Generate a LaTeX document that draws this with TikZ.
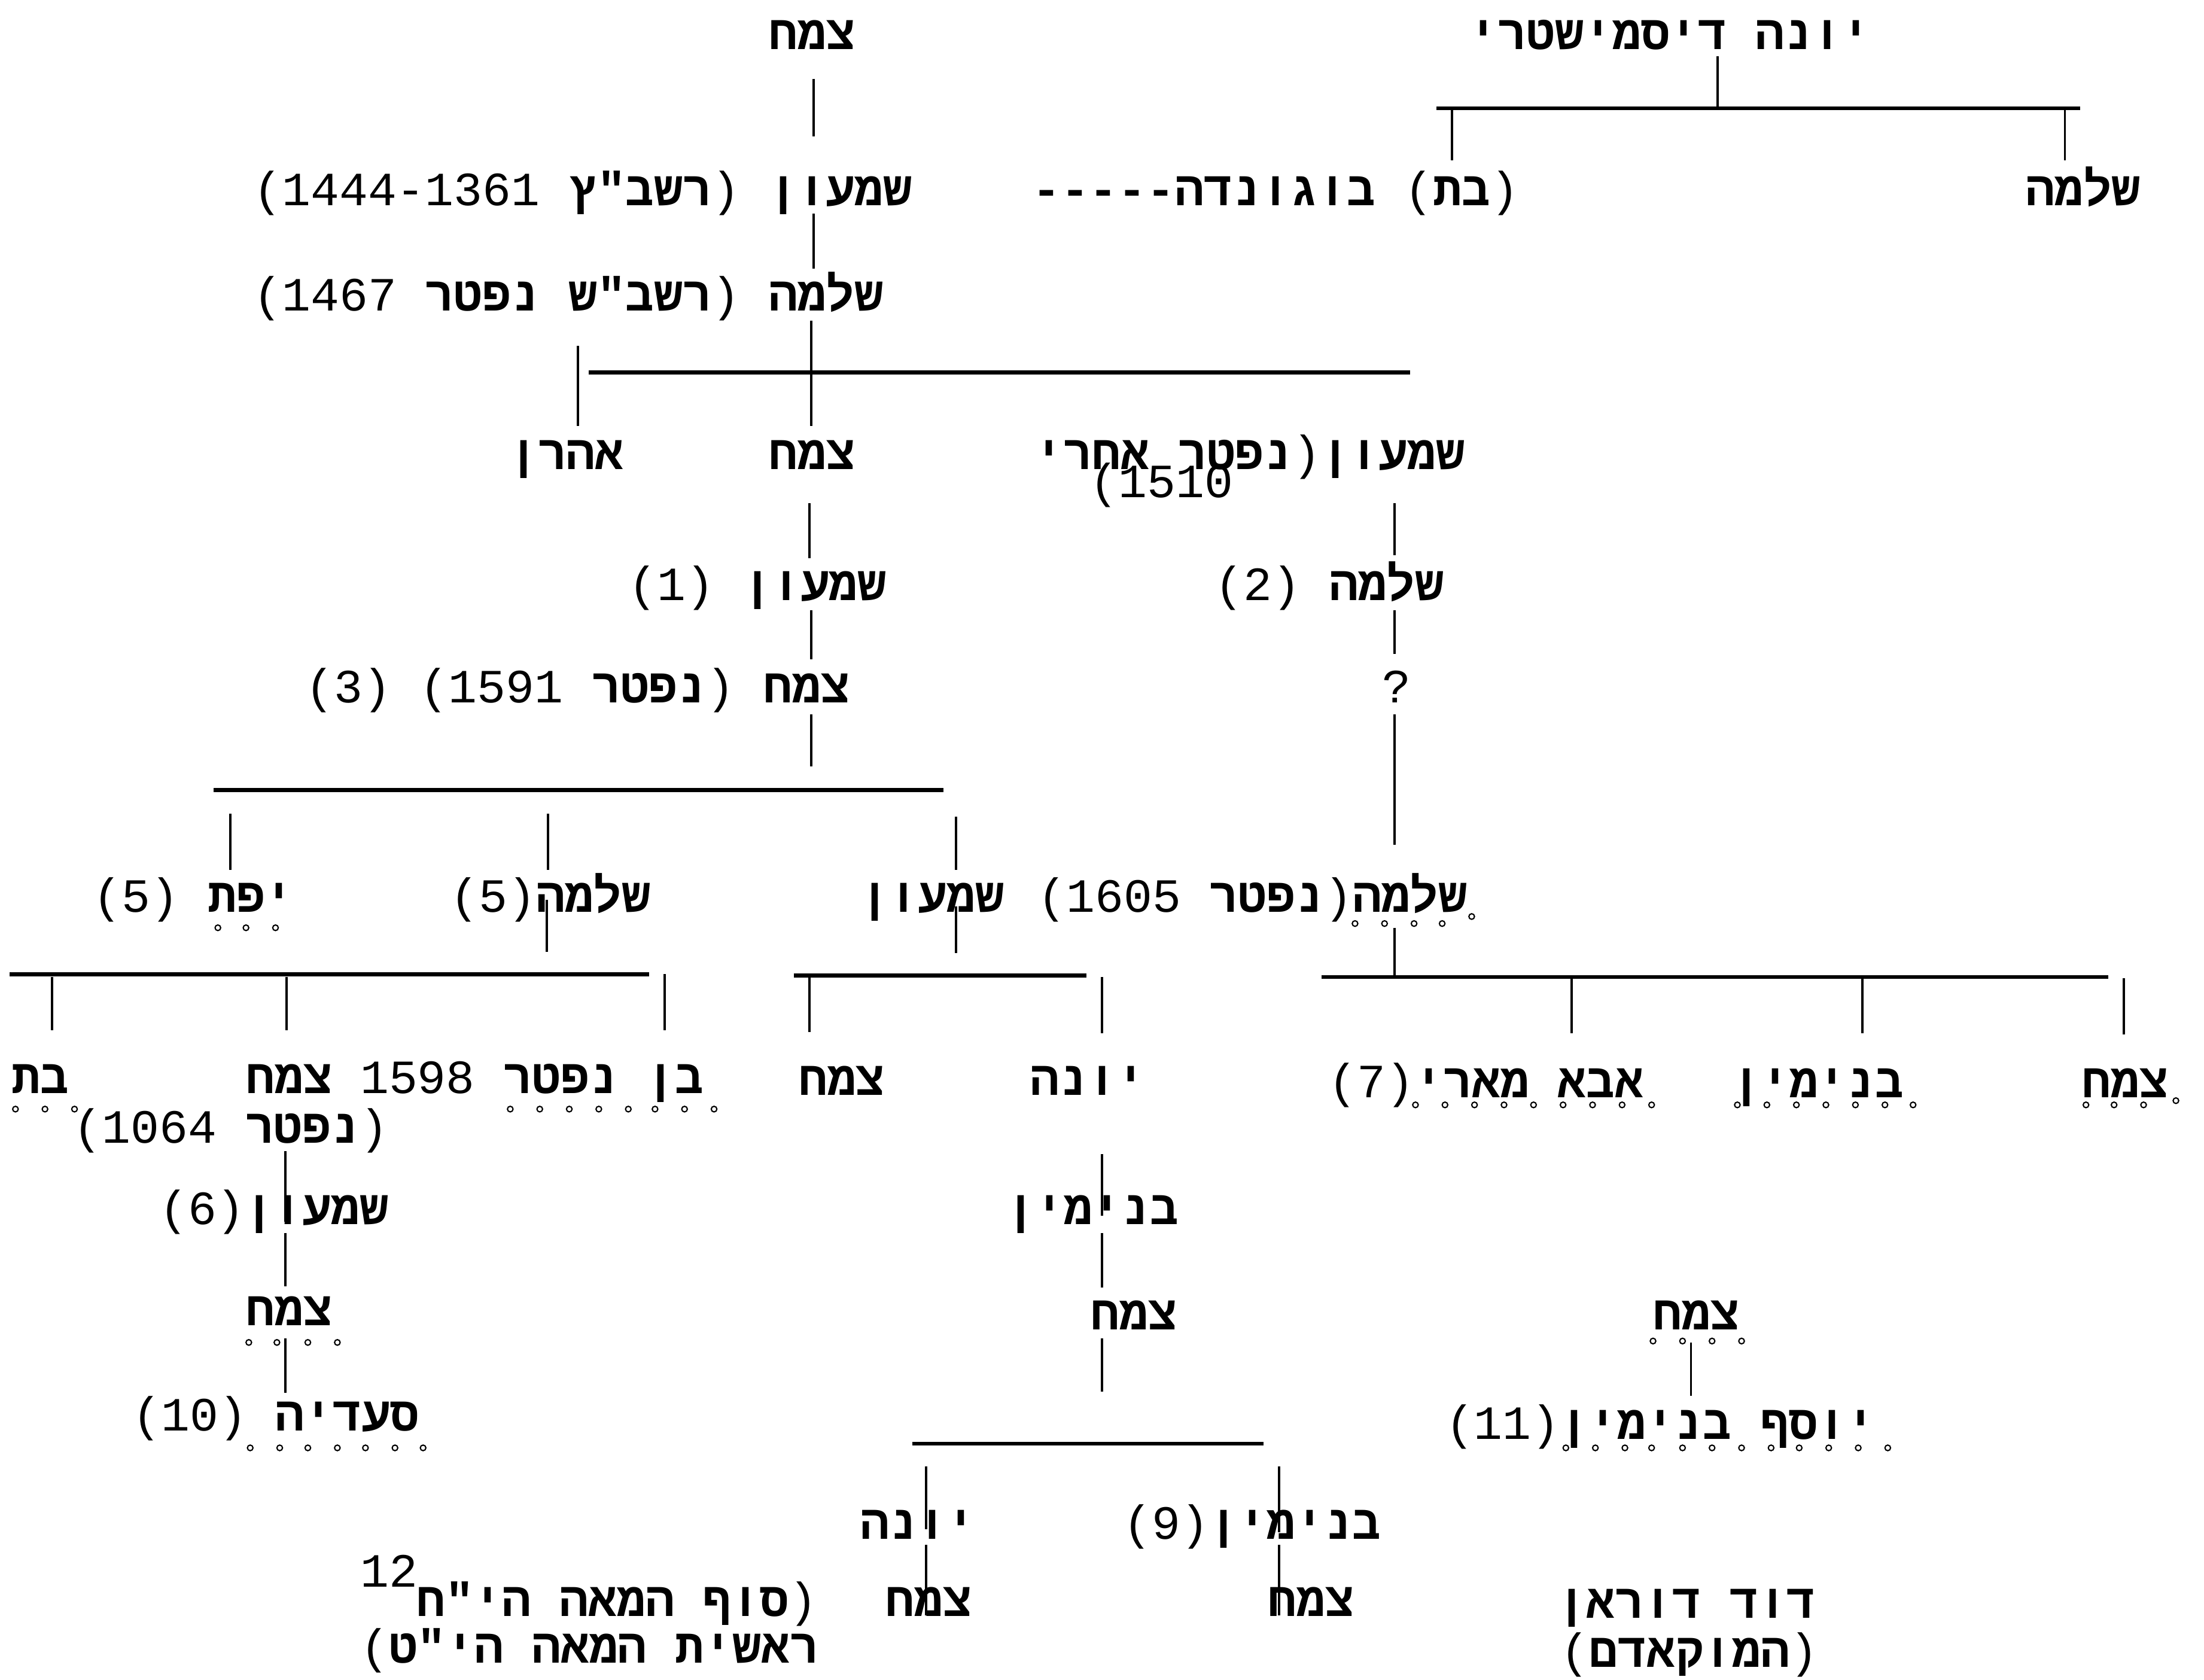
\documentclass[tikz,border=0pt]{standalone}
\usepackage{fontspec}
\newfontfamily\monof{Liberation Mono}
\newfontfamily\hebb[Script=Hebrew]{Liberation Mono Bold}
\TeXXeTstate=1
\newcommand{\heb}[1]{{\hebb\beginR#1\endR}}
% parentheses as glyphs, so that they are never mirrored
\newcommand{\LP}{{\monof\XeTeXglyph\XeTeXglyphindex "parenleft"\relax}}
\newcommand{\RP}{{\monof\XeTeXglyph\XeTeXglyphindex "parenright"\relax}}
\newcommand{\dsh}{{\hebb\mbox{-}\mbox{-}\mbox{-}\mbox{-}\mbox{-}}}
\begin{document}
\begin{tikzpicture}[x=0.0235cm,y=-0.0235cm,
  txt/.style={inner sep=0pt,anchor=base west,font=\fontsize{22.7}{26}\selectfont\monof},
  vline/.style={line width=1.1pt},
  hbar/.style={line width=1.9pt},
  oc/.style={line width=0.6pt}]
\useasboundingbox[fill=white] (0,0) rectangle (1568,1195);

% ---- texts ----
\node[txt] (a1) at (547,35) {\heb{צמח}};
\node[txt] (a2) at (1045,35) {\heb{יונה דיסמישטרי}};
\node[txt] (b1) at (180,146) {\LP1444-1361 \heb{רשב"ץ}\RP\ \heb{שמעון}};
\node[txt] (b2) at (734,146) {\dsh\heb{בוגונדה} \LP\heb{בת}\RP};
\node[txt] (b3) at (1441,146) {\heb{שלמה}};
\node[txt] (c1) at (180,221) {\LP1467 \heb{רשב"ש נפטר}\RP\ \heb{שלמה}};
\node[txt] (d1) at (362,334) {\heb{אהרן}};
\node[txt] (d2) at (547,334) {\heb{צמח}};
\node[txt] (d3) at (736,334) {\heb{נפטר אחרי}\RP\heb{שמעון}};
\node[txt] (d4) at (775,354) {\LP1510};
\node[txt] (e1) at (447,427) {\LP1\RP\ \heb{שמעון}};
\node[txt] (e2) at (864,427) {\LP2\RP\ \heb{שלמה}};
\node[txt] (f1) at (217,500) {\LP3\RP\ \LP1591 \heb{נפטר}\RP\ \heb{צמח}};
\node[txt] (f2) at (983,500) {?};
\node[txt] (g1) at (66,649) {\LP5\RP\ \heb{יפת}};
\node[txt] (g2) at (320,649) {\LP5\RP\heb{שלמה}};
\node[txt] (g3) at (612,649) {\heb{שמעון}};
\node[txt] (g4) at (738,649) {\LP1605 \heb{נפטר}\RP\heb{שלמה}};
\node[txt] (h1) at (8,778) {\heb{בת}};
\node[txt] (h2) at (175,778) {\heb{צמח}};
\node[txt] (h3) at (256,778) {1598 \heb{בן נפטר}};
\node[txt] (h4) at (52,813) {\LP1064 \heb{נפטר}\RP};
\node[txt] (h5) at (568,779) {\heb{צמח}};
\node[txt] (h6) at (733,779) {\heb{יונה}};
\node[txt] (h7) at (945,781) {\LP7\RP\heb{אבא מארי}};
\node[txt] (h8) at (1232,781) {\heb{בנימין}};
\node[txt] (h9) at (1481,781) {\heb{צמח}};
\node[txt] (i1) at (113,871) {\LP6\RP\heb{שמעון}};
\node[txt] (i2) at (716,871) {\heb{בנימין}};
\node[txt] (j1) at (175,943) {\heb{צמח}};
\node[txt] (j2) at (776,946) {\heb{צמח}};
\node[txt] (j3) at (1176,946) {\heb{צמח}};
\node[txt] (k1) at (94,1018) {\LP10\RP\ \heb{סעדיה}};
\node[txt] (k2) at (1028,1024) {\LP11\RP\heb{יוסף בנימין}};
\node[txt] (l1) at (612,1095) {\heb{יונה}};
\node[txt] (l2) at (799,1095) {\LP9\RP\heb{בנימין}};
\node[txt] (m0) at (256,1129) {12};
\node[txt] (m1) at (296,1150) {\heb{סוף המאה הי"ח}\RP};
\node[txt] (m2) at (630,1150) {\heb{צמח}};
\node[txt] (m3) at (902,1150) {\heb{צמח}};
\node[txt] (m4) at (1108,1151) {\heb{דוד דוראן}};
\node[txt] (n1) at (256,1183) {\LP\heb{ראשית המאה הי"ט}};
\node[txt] (n2) at (1110,1186) {\LP\heb{המוקאדם}\RP};

% ---- connectors ----
\draw[vline] (1222,40) -- (1222,76);
\draw[hbar] (1022,77) -- (1480,77);
\draw[vline] (1033,77) -- (1033,114);
\draw[vline] (1469,77) -- (1469,114);

\draw[vline] (579,56) -- (579,97);
\draw[vline] (579,152) -- (579,191);
\draw[vline] (577,228) -- (577,303);
\draw[hbar] (419,265) -- (1003,265);
\draw[vline] (411,246) -- (411,303);
\draw[vline] (576,358) -- (576,397);
\draw[vline] (992,358) -- (992,395);
\draw[vline] (577,434) -- (577,469);
\draw[vline] (992,434) -- (992,465);
\draw[vline] (577,508) -- (577,545);
\draw[vline] (992,508) -- (992,601);
\draw[hbar] (152,562) -- (671,562);
\draw[vline] (164,579) -- (164,619);
\draw[vline] (390,579) -- (390,619);
\draw[vline] (680,581) -- (680,619);
\draw[vline] (389,640) -- (389,677);
\draw[vline] (680,645) -- (680,678);
\draw[vline] (992,660) -- (992,695);
\draw[hbar] (7,693) -- (462,693);
\draw[vline] (37,695) -- (37,733);
\draw[vline] (204,695) -- (204,733);
\draw[vline] (473,693) -- (473,733);
\draw[hbar] (565,694) -- (773,694);
\draw[vline] (576,695) -- (576,734);
\draw[vline] (784,695) -- (784,735);
\draw[hbar] (940,695) -- (1500,695);
\draw[vline] (1118,696) -- (1118,735);
\draw[vline] (1325,696) -- (1325,735);
\draw[vline] (1511,696) -- (1511,736);
\draw[vline] (203,819) -- (203,869);
\draw[vline] (203,877) -- (203,915);
\draw[vline] (203,952) -- (203,991);
\draw[vline] (784,821) -- (784,865);
\draw[vline] (784,877) -- (784,916);
\draw[vline] (784,952) -- (784,990);
\draw[hbar] (649,1027) -- (899,1027);
\draw[vline] (659,1043) -- (659,1088);
\draw[vline] (910,1043) -- (910,1090);
\draw[vline] (659,1099) -- (659,1149);
\draw[vline] (910,1099) -- (910,1149);
\draw[vline] (1203,955) -- (1203,993);

% ---- small circles (typed marks) ----
\foreach \x in {155,175,196} \draw[oc] (\x,660) circle[radius=2];
\foreach \x in {363,384,405,426,447,466,487,508} \draw[oc] (\x,789) circle[radius=2];
\foreach \x in {11,32,53} \draw[oc] (\x,789) circle[radius=2];
\foreach \x in {177,197,219,240} \draw[oc] (\x,955) circle[radius=2];
\foreach \x in {178,199,219,240,260,281,301} \draw[oc] (\x,1030) circle[radius=2];
\foreach \x in {964,985,1006,1026} \draw[oc] (\x,657) circle[radius=2];
\draw[oc] (1047,652) circle[radius=2];
\foreach \x in {1007,1028,1049,1070,1091,1112,1133,1154,1175,1236,1257,1278,1299,1320,1341,1361,1484,1504,1525} \draw[oc] (\x,786) circle[radius=2];
\draw[oc] (1548,783) circle[radius=2];
\foreach \x in {1176,1197,1218,1239} \draw[oc] (\x,954) circle[radius=2];
\foreach \x in {1114,1135,1156,1175,1197,1218,1239,1260,1280,1301,1322,1343} \draw[oc] (\x,1030) circle[radius=2];
\end{tikzpicture}
\end{document}
